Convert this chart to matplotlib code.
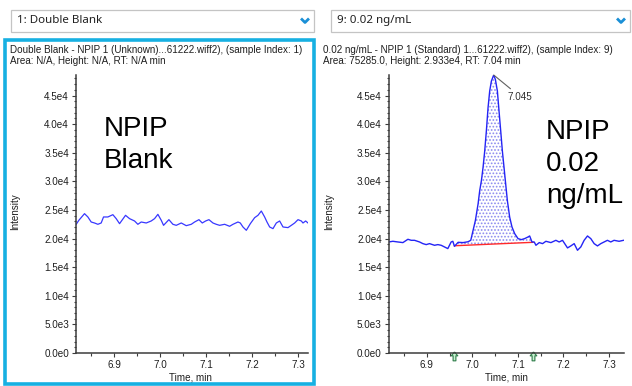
import numpy as np
import matplotlib
matplotlib.use("Agg")
import matplotlib.pyplot as plt
from matplotlib.patches import Rectangle
from matplotlib.path import Path
from matplotlib.ticker import MultipleLocator, FuncFormatter
import matplotlib.transforms as mtransforms

plt.rcParams['font.family'] = ['Liberation Sans', 'DejaVu Sans']
plt.rcParams['hatch.linewidth'] = 0.8

W, H = 632, 386

# blank injection trace (time in min, counts)
blank_time = [6.8174, 6.8232, 6.8355, 6.8428, 6.8500, 6.8572, 6.8645, 6.8717, 6.8768, 6.8862,
              6.8971, 6.9043, 6.9116, 6.9246, 6.9333, 6.9442, 6.9514, 6.9587, 6.9696, 6.9804,
              6.9877, 6.9949, 7.0022, 7.0072, 7.0188, 7.0275, 7.0348, 7.0457, 7.0565, 7.0674,
              7.0746, 7.0841, 7.0913, 7.0986, 7.1058, 7.1145, 7.1217, 7.1290, 7.1399, 7.1507,
              7.1580, 7.1688, 7.1739, 7.1797, 7.1870, 7.1957, 7.2051, 7.2123, 7.2196, 7.2268,
              7.2319, 7.2377, 7.2449, 7.2522, 7.2594, 7.2667, 7.2775, 7.2848, 7.2920, 7.2993,
              7.3065, 7.3101, 7.3159, 7.3210]
blank_int = [22500, 23200, 24360, 23780, 22900, 22730, 22500, 22730, 23780, 23780,
             24180, 23490, 22610, 24070, 23490, 23080, 22500, 22900, 22730, 23080,
             23490, 24240, 23200, 22320, 23310, 22500, 22320, 22730, 22260, 22500,
             22900, 23310, 22730, 23080, 23310, 22730, 22500, 22320, 22500, 22150,
             22500, 22900, 22730, 22030, 21450, 22610, 23660, 24070, 24820, 23780,
             22900, 22030, 21740, 22730, 23080, 22030, 21920, 22320, 22730, 23310,
             23080, 22730, 23080, 22730]

# 0.02 ng/mL standard trace
std_time = [6.8160, 6.8252, 6.8362, 6.8472, 6.8582, 6.8655, 6.8728, 6.8838, 6.8911, 6.8984,
            6.9057, 6.9167, 6.9240, 6.9313, 6.9386, 6.9459, 6.9532, 6.9569, 6.9605, 6.9685,
            6.9794, 6.9904, 6.9963, 7.0014, 7.0065, 7.0124, 7.0160, 7.0197, 7.0233, 7.0270,
            7.0306, 7.0343, 7.0379, 7.0416, 7.0467, 7.0504, 7.0548, 7.0584, 7.0621, 7.0657,
            7.0694, 7.0730, 7.0767, 7.0818, 7.0869, 7.0928, 7.1001, 7.1074, 7.1147, 7.1220,
            7.1257, 7.1308, 7.1358, 7.1395, 7.1468, 7.1541, 7.1614, 7.1724, 7.1833, 7.1906,
            7.1979, 7.2089, 7.2162, 7.2235, 7.2308, 7.2381, 7.2454, 7.2528, 7.2601, 7.2674,
            7.2747, 7.2820, 7.2893, 7.2966, 7.3039, 7.3112, 7.3222, 7.3320]
std_int = [19410, 19530, 19410, 19300, 19880, 19700, 19700, 19410, 19120, 18950,
           19120, 18830, 18950, 18830, 18540, 18250, 19410, 19530, 18650, 19350,
           19300, 19450, 19700, 21440, 23180, 26080, 28400, 30140, 32450, 35350,
           38830, 42890, 45790, 47530, 48600, 47820, 45790, 42310, 38830, 35350,
           32450, 29560, 26660, 23760, 22020, 20870, 20000, 19820, 20000, 20280,
           20460, 19410, 19410, 18830, 19300, 19120, 19530, 19300, 19700, 19410,
           19700, 18370, 18720, 19120, 17960, 18540, 19700, 20460, 19990, 19120,
           18720, 19120, 19410, 19700, 19410, 19700, 19530, 19700]

# integration baseline (peak start / end)
base_time = [6.9605, 7.1330]
base_int = [18750, 19350]
peak_rt = 7.045
peak_apex = (7.0467, 48600)

xticks = [6.9, 7.0, 7.1, 7.2, 7.3]


def fig_xy(x, y):
    return x / W, 1 - y / H


def sci(v, pos):
    if v == 0:
        return '0.0e0'
    e = int(np.floor(np.log10(abs(v)) + 1e-9))
    return '%.1fe%d' % (v / 10 ** e, e)


def style_axes(ax, xlim):
    ax.set_xlim(*xlim)
    ax.set_ylim(0, 48600)
    for s in ['top', 'right']:
        ax.spines[s].set_visible(False)
    for s in ['left', 'bottom']:
        ax.spines[s].set_color('#3c3c3c')
        ax.spines[s].set_linewidth(1.1)
    ax.set_xticks(xticks)
    ax.xaxis.set_minor_locator(MultipleLocator(0.05))
    ax.yaxis.set_major_locator(MultipleLocator(5000))
    ax.yaxis.set_minor_locator(MultipleLocator(1000))
    ax.yaxis.set_major_formatter(FuncFormatter(sci))
    ax.xaxis.set_major_formatter(FuncFormatter(lambda v, p: '%.1f' % v))
    ax.tick_params(which='major', length=3, width=0.8, color='#3c3c3c',
                   labelsize=7.1, labelcolor='#1e1e1e', pad=2)
    ax.tick_params(which='minor', length=1.8, width=0.8, color='#3c3c3c')
    ax.set_facecolor('white')


fig = plt.figure(figsize=(W / 100, H / 100), dpi=100)
fig.patch.set_facecolor('white')

# dropdown selectors
for x0, x1, label in [(11, 314, '1: Double Blank'), (331, 630, '9: 0.02 ng/mL')]:
    fx0, fy0 = fig_xy(x0, 31.5)
    fx1, fy1 = fig_xy(x1, 10)
    fig.patches.append(Rectangle((fx0, fy0), fx1 - fx0, fy1 - fy0, transform=fig.transFigure,
                                 facecolor='white', edgecolor='#c4c4c4', linewidth=0.9))
    tx, ty = fig_xy(x0 + 6, 20.5)
    fig.text(tx, ty, label, fontsize=8.3, family='Noto Sans', color='#202020',
             ha='left', va='center')
    cx = x1 - 9
    xs, ys = zip(*[fig_xy(cx - 4, 18.5), fig_xy(cx, 22.5), fig_xy(cx + 4, 18.5)])
    fig.lines.append(plt.Line2D(xs, ys, transform=fig.transFigure, color='#1a8fd6',
                                linewidth=2.0, solid_capstyle='butt'))

# selected-pane frame
fx0, fy0 = fig_xy(5, 384)
fx1, fy1 = fig_xy(314, 40)
fig.patches.append(Rectangle((fx0, fy0), fx1 - fx0, fy1 - fy0, transform=fig.transFigure,
                             facecolor='none', edgecolor='#17b0e2', linewidth=2.6))

# pane headers
headers = [
    (10, 'Double Blank - NPIP 1 (Unknown)...61222.wiff2), (sample Index: 1)',
     'Area: N/A, Height: N/A, RT: N/A min'),
    (323, '0.02 ng/mL - NPIP 1 (Standard) 1...61222.wiff2), (sample Index: 9)',
     'Area: 75285.0, Height: 2.933e4, RT: 7.04 min'),
]
for x0, l1, l2 in headers:
    fig.text(*fig_xy(x0, 50), l1, fontsize=7.1, color='#1e1e1e', ha='left', va='center')
    fig.text(*fig_xy(x0, 61), l2, fontsize=7.1, color='#1e1e1e', ha='left', va='center')

y_top, y_bot = 75, 353
ax1 = fig.add_axes([76 / W, 1 - y_bot / H, (308 - 76) / W, (y_bot - y_top) / H])
ax2 = fig.add_axes([388.7 / W, 1 - y_bot / H, (624 - 388.7) / W, (y_bot - y_top) / H])

style_axes(ax1, (6.817, 7.321))
style_axes(ax2, (6.816, 7.333))

ax1.plot(blank_time, blank_int, color='#3838ff', linewidth=0.9)

# integrated peak area between trace and baseline
t = np.array(std_time)
y = np.array(std_int)
sel = (t >= base_time[0]) & (t <= base_time[1])
bl = np.interp(t[sel], base_time, base_int)
ax2.fill_between(t[sel], bl, y[sel], where=y[sel] >= bl, interpolate=True,
                 facecolor='white', edgecolor='#8a8aee', hatch='.....', linewidth=0)
ax2.plot(base_time, base_int, color='#ff2a2a', linewidth=1.0)
ax2.plot(std_time, std_int, color='#2424f5', linewidth=1.0)

ax2.annotate('%.3f' % peak_rt, xy=peak_apex, xytext=(10, -15.5), textcoords='offset points',
             fontsize=7.1, color='#303030', ha='left', va='center',
             arrowprops=dict(arrowstyle='-', color='#606060', lw=0.8, shrinkA=0, shrinkB=0))

# peak start / end markers under the axis
arrow = Path([(0, 1), (-0.6, 0.3), (-0.25, 0.3), (-0.25, -0.6), (0.25, -0.6),
              (0.25, 0.3), (0.6, 0.3), (0, 1)])
trans = mtransforms.blended_transform_factory(ax2.transData, ax2.transAxes)
ax2.plot(base_time, [-0.016, -0.016], linestyle='none', marker=arrow, markersize=8,
         markerfacecolor='#c9f3d2', markeredgecolor='#2f7d4a', markeredgewidth=0.8,
         transform=trans, clip_on=False)

for ax, yl_x, xl_x in [(ax1, 15, 190), (ax2, 329, 506)]:
    fig.text(*fig_xy(yl_x, 212), 'Intensity', fontsize=7.1, rotation=90,
             color='#1e1e1e', ha='center', va='center')
    fig.text(*fig_xy(xl_x, 377), 'Time, min', fontsize=7.1,
             color='#1e1e1e', ha='center', va='center')

# sample labels
fig.text(*fig_xy(104, 116), 'NPIP\nBlank', fontsize=20, color='black',
         ha='left', va='top', linespacing=1.3)
fig.text(*fig_xy(546, 119), 'NPIP\n0.02\nng/mL', fontsize=20, color='black',
         ha='left', va='top', linespacing=1.3)

fig.savefig('out.png', dpi=100, facecolor='white')
